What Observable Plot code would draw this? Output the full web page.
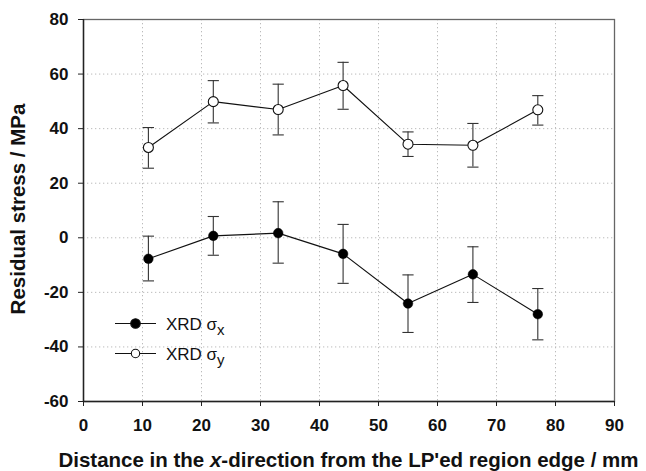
<!DOCTYPE html>
<html>
<head>
<meta charset="utf-8">
<script src="https://cdn.jsdelivr.net/npm/d3@7"></script>
<script src="https://cdn.jsdelivr.net/npm/@observablehq/plot@0.6"></script>
<style>
  body { margin: 0; background: white; }
</style>
</head>
<body>
<div id="chart"></div>
<script>
// Data
const distances = [11, 22, 33, 44, 55, 66, 77];
const sigmaX     = [-7.7, 0.7, 1.7, -5.9, -24.1, -13.4, -28.0];
const sigmaXLow  = [-15.8, -6.4, -9.3, -16.7, -34.7, -23.7, -37.4];
const sigmaXHigh = [0.6, 7.8, 13.2, 4.9, -13.6, -3.3, -18.6];
const sigmaY     = [33.1, 49.9, 47.0, 55.8, 34.3, 33.9, 46.9];
const sigmaYLow  = [25.5, 42.1, 37.7, 47.1, 29.8, 25.9, 41.3];
const sigmaYHigh = [40.4, 57.6, 56.3, 64.3, 38.8, 41.9, 52.1];
const xTicks = [0, 10, 20, 30, 40, 50, 60, 70, 80, 90];
const yTicks = [-60, -40, -20, 0, 20, 40, 60, 80];
const seriesNames = ["XRD σ", "XRD σ"];
const seriesSubs = ["x", "y"];
const xTitleParts = ["Distance in the ", "x", "-direction from the LP'ed region edge / mm"];
const yTitle = "Residual stress / MPa";

const rowsX = distances.map((d, i) => ({x: d, y: sigmaX[i], lo: sigmaXLow[i], hi: sigmaXHigh[i]}));
const rowsY = distances.map((d, i) => ({x: d, y: sigmaY[i], lo: sigmaYLow[i], hi: sigmaYHigh[i]}));

const FONT = "'Liberation Sans', Arial, Helvetica, sans-serif";
const capSymbol = { draw(ctx) { ctx.moveTo(-5.6, 0); ctx.lineTo(5.6, 0); } };
const errColor = "#333";

function errMarks(rows) {
  return [
    Plot.ruleX(rows, {x: "x", y1: "lo", y2: "hi", stroke: errColor, strokeWidth: 1.1}),
    Plot.dot(rows, {x: "x", y: "lo", symbol: capSymbol, stroke: errColor, fill: "none", strokeWidth: 1.1}),
    Plot.dot(rows, {x: "x", y: "hi", symbol: capSymbol, stroke: errColor, fill: "none", strokeWidth: 1.1})
  ];
}

const chart = Plot.plot({
  width: 646,
  height: 471,
  marginLeft: 83,
  marginRight: 32,
  marginTop: 19,
  marginBottom: 70,
  style: {fontFamily: FONT, background: "white", overflow: "visible"},
  x: {domain: [0, 90]},
  y: {domain: [-60, 80]},
  marks: [
    Plot.gridX(xTicks.slice(1, -1), {stroke: "#bbb", strokeOpacity: 1, strokeDasharray: "1.3,2.7"}),
    Plot.gridY(yTicks.slice(1, -1), {stroke: "#bbb", strokeOpacity: 1, strokeDasharray: "1.3,2.7"}),
    Plot.frame({stroke: "#666", strokeWidth: 1.3}),
    Plot.ruleX([0], {stroke: "#222", strokeWidth: 1.4}),
    Plot.ruleY([-60], {stroke: "#222", strokeWidth: 1.4}),
    Plot.axisX({ticks: xTicks, tickSize: 5, tickPadding: 12, tickFormat: d => String(d),
      fontSize: 17, fontWeight: "bold", fill: "#111", stroke: "#222", label: null}),
    Plot.axisY({ticks: yTicks, tickSize: 5, tickPadding: 10, tickFormat: d => String(d),
      fontSize: 17, fontWeight: "bold", fill: "#111", stroke: "#222", label: null}),
    ...errMarks(rowsY),
    ...errMarks(rowsX),
    Plot.line(rowsY, {x: "x", y: "y", stroke: "#111", strokeWidth: 1.1}),
    Plot.line(rowsX, {x: "x", y: "y", stroke: "#111", strokeWidth: 1.1}),
    Plot.dot(rowsY, {x: "x", y: "y", r: 5, fill: "white", stroke: "#111", strokeWidth: 1.1}),
    Plot.dot(rowsX, {x: "x", y: "y", r: 4.8, fill: "#000", stroke: "#000", strokeWidth: 0.5})
  ]
});

document.getElementById("chart").appendChild(chart);

// Post-render additions: legend and axis titles with mixed styles
const svg = d3.select(chart);
const legendY = [323.5, 353.5];
const legendFill = ["#000", "white"];
const legendR = [4.8, 4.2];
legendY.forEach((ly, i) => {
  const g = svg.append("g");
  g.append("line").attr("x1", 115).attr("x2", 156).attr("y1", ly).attr("y2", ly)
    .attr("stroke", "#111").attr("stroke-width", 1.1);
  g.append("circle").attr("cx", 135.5).attr("cy", ly).attr("r", legendR[i])
    .attr("fill", legendFill[i]).attr("stroke", "#111").attr("stroke-width", 1.1);
  const t = g.append("text").attr("x", 166).attr("y", ly + 6)
    .attr("text-anchor", "start")
    .attr("font-family", FONT).attr("font-size", 17).attr("fill", "#111");
  t.append("tspan").text(seriesNames[i]);
  t.append("tspan").attr("dy", 5).attr("font-size", 15).text(seriesSubs[i]);
});

const xt = svg.append("text").attr("x", 348.5).attr("y", 467)
  .attr("text-anchor", "middle").attr("font-family", FONT)
  .attr("font-size", 20.5).attr("font-weight", "bold").attr("fill", "#111");
xt.append("tspan").text(xTitleParts[0]);
xt.append("tspan").attr("font-style", "italic").text(xTitleParts[1]);
xt.append("tspan").text(xTitleParts[2]);

svg.append("text").attr("transform", "translate(25,209) rotate(-90)")
  .attr("text-anchor", "middle").attr("font-family", FONT)
  .attr("font-size", 20.5).attr("font-weight", "bold").attr("fill", "#111")
  .text(yTitle);
</script>
</body>
</html>
